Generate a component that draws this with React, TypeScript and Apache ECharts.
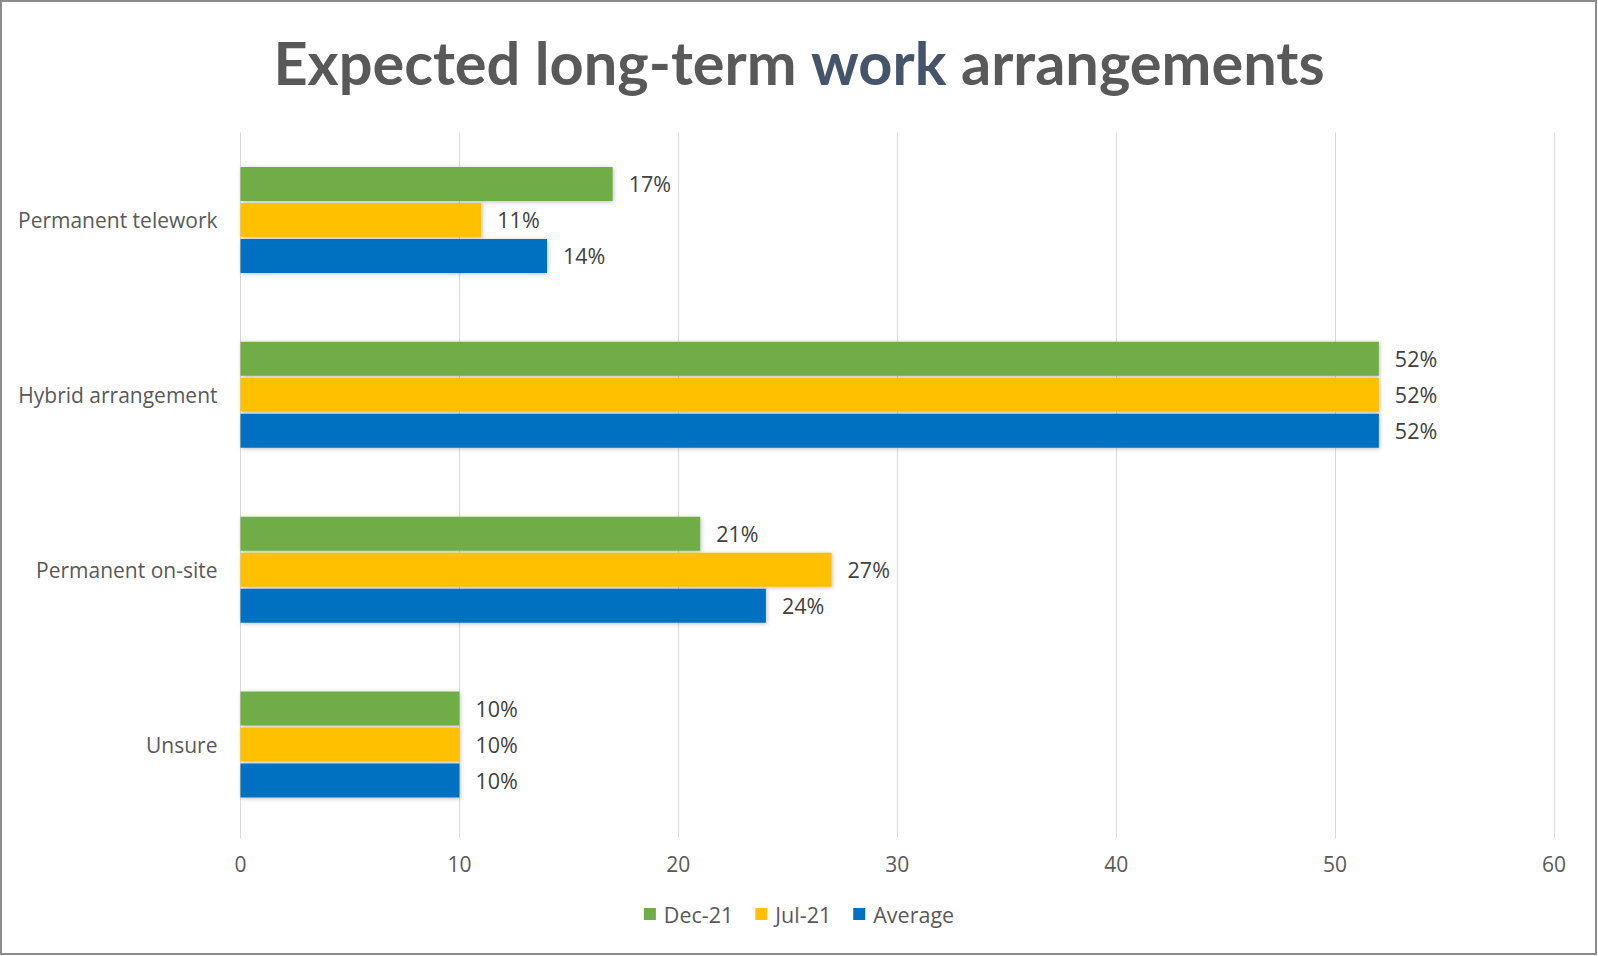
import React, { useEffect, useRef } from "react";
import * as echarts from "echarts";

const categories = ["Permanent telework", "Hybrid arrangement", "Permanent on-site", "Unsure"];
const dec21 = [17, 52, 21, 10];
const jul21 = [11, 52, 27, 10];
const average = [14, 52, 24, 10];
const seriesNames = ["Dec-21", "Jul-21", "Average"];
const colors = ["#70AD47", "#FFC000", "#0070C0"];

const TITLE_FONT = "Lato";
const FONT = "Open Sans";

export default function App() {
  const ref = useRef<HTMLDivElement>(null);
  useEffect(() => {
    document.body.style.margin = "0";
    const chart = echarts.init(ref.current!, null, { renderer: "svg" });
    const mk = (name: string, data: number[], color: string) => ({
      name,
      type: "bar",
      data,
      barWidth: 34,
      barGap: "6%",
      itemStyle: {
        color,
        shadowBlur: 4,
        shadowColor: "rgba(0,0,0,0.25)",
        shadowOffsetX: 1,
        shadowOffsetY: 1,
      },
      label: {
        show: true,
        position: "right",
        distance: 16,
        formatter: (p: any) => p.value + "%",
        color: "#404040",
        fontFamily: FONT,
        fontSize: 21.5,
      },
    });
    chart.setOption({
      animation: false,
      backgroundColor: "#fff",
      title: {
        text: "{a|Expected long-term }{b|work}{a| arrangements}",
        left: "center",
        top: 27,
        textStyle: {
          rich: {
            a: { fontFamily: TITLE_FONT, fontWeight: "bold", fontSize: 59.5, color: "#595959" },
            b: { fontFamily: TITLE_FONT, fontWeight: "bold", fontSize: 59.5, color: "#44546A" },
          },
        },
      },
      legend: {
        data: seriesNames,
        bottom: 26,
        left: "center",
        icon: "rect",
        itemWidth: 12,
        itemHeight: 12,
        itemGap: 22,
        textStyle: { fontFamily: FONT, fontSize: 21.5, color: "#595959", padding: [0, 0, 0, 3] },
      },
      grid: { left: 240.5, right: 44, top: 132.5, bottom: 124, containLabel: false },
      xAxis: {
        type: "value",
        min: 0,
        max: 60,
        interval: 10,
        axisLine: { show: false },
        axisTick: { show: true, length: 6, lineStyle: { color: "#D9D9D9" } },
        splitLine: { show: true, lineStyle: { color: "#D9D9D9", width: 1 } },
        axisLabel: { margin: 21, fontFamily: FONT, fontSize: 21, color: "#595959" },
      },
      yAxis: {
        type: "category",
        inverse: true,
        data: categories,
        axisLine: { show: false },
        axisTick: { show: false },
        axisLabel: { margin: 23, fontFamily: FONT, fontSize: 21, color: "#595959" },
      },
      series: [mk(seriesNames[0], dec21, colors[0]), mk(seriesNames[1], jul21, colors[1]), mk(seriesNames[2], average, colors[2])],
      graphic: [
        {
          type: "rect",
          shape: { x: 1, y: 1, width: 1595, height: 953 },
          style: { fill: "none", stroke: "#8C8C8C", lineWidth: 2 },
          silent: true,
        },
      ],
    });
    return () => chart.dispose();
  }, []);
  return <div ref={ref} style={{ width: 1598, height: 956 }} />;
}
